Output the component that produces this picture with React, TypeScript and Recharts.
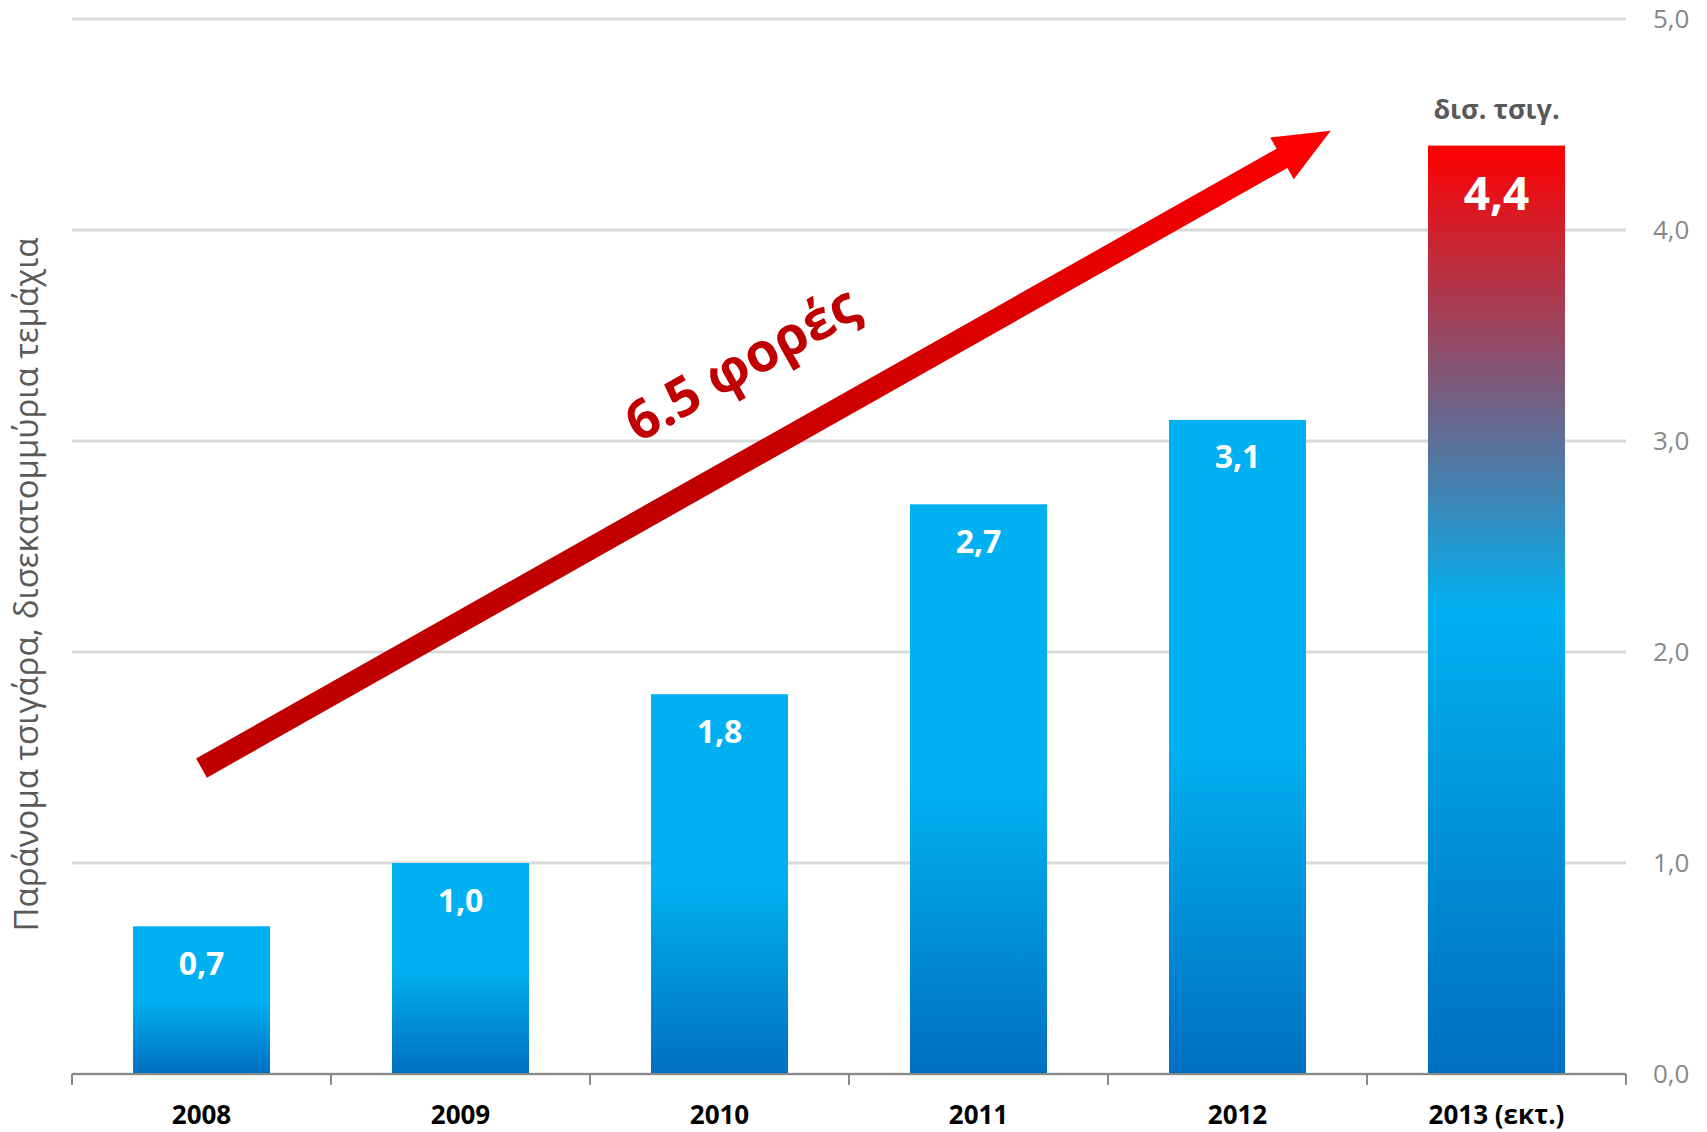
import React from "react";
import {
  BarChart,
  Bar,
  XAxis,
  YAxis,
  CartesianGrid,
  ReferenceLine,
  LabelList,
} from "recharts";

// chart values
const years = ["2008", "2009", "2010", "2011", "2012", "2013 (εκτ.)"];
const values = [0.7, 1.0, 1.8, 2.7, 3.1, 4.4];
const yTicks = [0, 1, 2, 3, 4, 5];
const slotEdges = [0, 1, 2, 3, 4, 5, 6]; // category boundaries on the helper axis
const highlightYear = "2013 (εκτ.)";

const unitLabel = "δισ. τσιγ.";
const axisTitle = "Παράνομα τσιγάρα, δισεκατομμύρια τεμάχια";
const growthLabel = "6.5 φορές";
// growth arrow in data space (helper x axis 0..6, value axis)
const arrowFrom = { x: 0.5, y: 1.45 };
const arrowTo = { x: 4.86, y: 4.47 };

const data = years.map((year, i) => ({ year, value: values[i] }));

const FONT = "'Open Sans', 'Noto Sans', sans-serif";
const fmt = (v: number) => Number(v).toFixed(1).replace(".", ",");

function GradientBar(props: any) {
  const { x, y, width, height, index, payload } = props;
  const hot = payload?.year === highlightYear;
  const id = `barfill-${index}`;
  return (
    <g>
      <defs>
        <linearGradient id={id} x1="0" y1="0" x2="0" y2="1">
          <stop offset="0" stopColor={hot ? "#FF0000" : "#00B0F0"} />
          <stop offset="0.5" stopColor="#00B0F0" />
          <stop offset="1" stopColor="#0070C0" />
        </linearGradient>
      </defs>
      <rect x={x} y={y} width={width} height={height} fill={`url(#${id})`} />
    </g>
  );
}

function ValueLabel(props: any) {
  const { x, y, width, value, index } = props;
  const hot = years[index] === highlightYear;
  const cx = x + width / 2;
  return (
    <g style={{ fontFamily: FONT }}>
      {hot && (
        <text
          x={cx}
          y={y - 37}
          textAnchor="middle"
          dominantBaseline="central"
          fill="#595959"
          fontSize={27}
          fontWeight={700}
        >
          {unitLabel}
        </text>
      )}
      <text
        x={cx}
        y={y + (hot ? 46 : 36)}
        textAnchor="middle"
        dominantBaseline="central"
        fill="#FFFFFF"
        fontSize={hot ? 46 : 32}
        fontWeight={700}
      >
        {fmt(value)}
      </text>
    </g>
  );
}

function GrowthArrow(props: any) {
  const { x1, y1, x2, y2 } = props;
  const dx = x2 - x1;
  const dy = y2 - y1;
  const len = Math.hypot(dx, dy);
  const ux = dx / len;
  const uy = dy / len;
  const nx = -uy;
  const ny = ux;
  const shaft = 11;
  const head = 24;
  const headLen = 56;
  const bx = x2 - ux * headLen;
  const by = y2 - uy * headLen;
  const pts = [
    [x1 + nx * shaft, y1 + ny * shaft],
    [bx + nx * shaft, by + ny * shaft],
    [bx + nx * head, by + ny * head],
    [x2, y2],
    [bx - nx * head, by - ny * head],
    [bx - nx * shaft, by - ny * shaft],
    [x1 - nx * shaft, y1 - ny * shaft],
  ]
    .map((p) => p.join(","))
    .join(" ");
  const angle = (Math.atan2(dy, dx) * 180) / Math.PI;
  const t = 0.516;
  const tx = x1 + dx * t - nx * 89;
  const ty = y1 + dy * t - ny * 89;
  return (
    <g>
      <defs>
        <linearGradient id="arrowfill" gradientUnits="userSpaceOnUse" x1={x1} y1={y1} x2={x2} y2={y2}>
          <stop offset="0" stopColor="#C00000" />
          <stop offset="0.45" stopColor="#C20000" />
          <stop offset="1" stopColor="#FF0000" />
        </linearGradient>
      </defs>
      <polygon points={pts} fill="url(#arrowfill)" />
      <text
        x={tx}
        y={ty}
        textAnchor="middle"
        dominantBaseline="central"
        transform={`rotate(${angle} ${tx} ${ty})`}
        fill="#C00000"
        fontSize={54}
        fontWeight={700}
        style={{ fontFamily: FONT }}
      >
        {growthLabel}
      </text>
    </g>
  );
}

function EdgeTick(props: any) {
  const { x1, y1, y2 } = props;
  const base = Math.max(y1, y2);
  return <line x1={x1} x2={x1} y1={base} y2={base + 11} stroke="#898989" strokeWidth={2} />;
}

function AxisTitle(props: any) {
  const vb = props.viewBox || { x: 0, y: 0, width: 72, height: 0 };
  const cx = vb.x + 25;
  const cy = vb.y + vb.height / 2 + 38;
  return (
    <text
      x={cx}
      y={cy}
      textAnchor="middle"
      dominantBaseline="central"
      transform={`rotate(-90 ${cx} ${cy})`}
      fill="#595959"
      fontSize={33}
      style={{ fontFamily: FONT }}
    >
      {axisTitle}
    </text>
  );
}

export default function App() {
  return (
    <div style={{ position: "absolute", left: 0, top: 0, fontFamily: FONT, background: "#fff" }}>
      <BarChart
        width={1707}
        height={1132}
        data={data}
        margin={{ top: 19, right: 0, bottom: 0, left: 0 }}
        barSize={137}
      >
        <CartesianGrid vertical={false} stroke="#D9D9D9" strokeWidth={3} />
        <XAxis
          dataKey="year"
          interval={0}
          height={58}
          axisLine={{ stroke: "#898989", strokeWidth: 2 }}
          tickLine={false}
          tickSize={0}
          tickMargin={32}
          tick={{ fill: "#000000", fontSize: 26, fontWeight: 700, fontFamily: FONT }}
        />
        <XAxis
          xAxisId="num"
          dataKey="value"
          type="number"
          domain={[0, 6]}
          ticks={slotEdges}
          allowDataOverflow
          hide
        />
        <YAxis
          orientation="right"
          domain={[0, 5]}
          ticks={yTicks}
          width={81}
          axisLine={false}
          tickLine={false}
          tickSize={0}
          tickMargin={27}
          tickFormatter={fmt}
          tick={{ fill: "#888888", fontSize: 26, fontFamily: FONT }}
        />
        <YAxis
          yAxisId="title"
          orientation="left"
          width={72}
          axisLine={false}
          tickLine={false}
          tick={false}
          label={<AxisTitle />}
        />
        <Bar dataKey="value" shape={<GradientBar />} isAnimationActive={false}>
          <LabelList dataKey="value" content={<ValueLabel />} />
        </Bar>
        {slotEdges.map((e) => (
          <ReferenceLine key={e} xAxisId="num" x={e} ifOverflow="visible" shape={<EdgeTick />} />
        ))}
        <ReferenceLine
          xAxisId="num"
          segment={[arrowFrom, arrowTo]}
          ifOverflow="visible"
          shape={<GrowthArrow />}
        />
      </BarChart>
    </div>
  );
}
